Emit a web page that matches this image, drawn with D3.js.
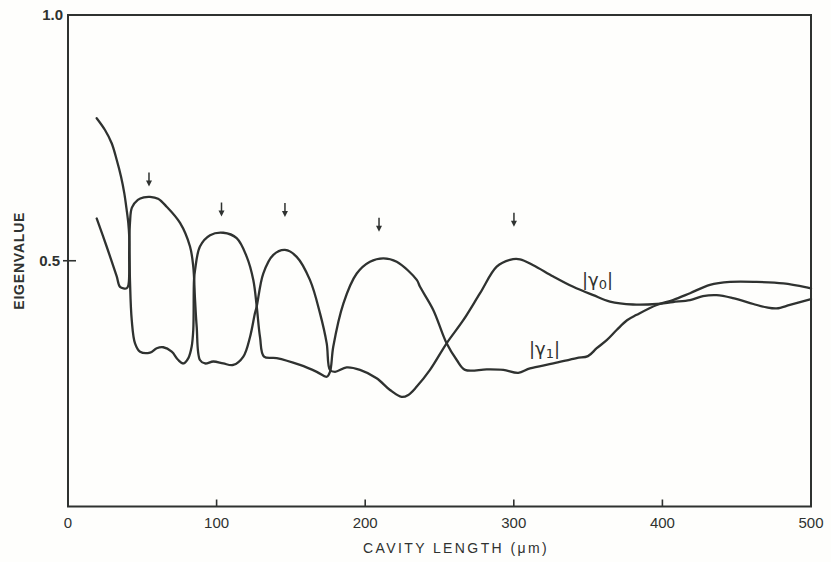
<!DOCTYPE html>
<html>
<head>
<meta charset="utf-8">
<script src="https://cdn.jsdelivr.net/npm/d3@7"></script>
<style>
  html, body { margin: 0; padding: 0; background: #fefefc; }
  svg { display: block; }
  text { fill: #2f3230; }
</style>
</head>
<body>
<svg id="chart" width="831" height="562"></svg>
<script>
// ---- data (cavity length in µm, eigenvalue magnitude) ----
const gamma1X = [19.3,24.9,29.4,32.8,35.7,37.9,39.5,40.6,41.2,41.7,42.9,45.1,48.5,55.2,59.7,64.1,69.8,74.2,77.6,81.0,83.2,84.3,84.8,85.5,88.8,95.6,104.5,113.5,120.3,124.7,127.0,129.2,131.9,140.4,156.1,167.4,174.1,176.3,178.5,185.3,194.3,203.2,212.2,221.2,234.7,236.9,245.8,254.8,261.6,267.2,281.8,293.0,303.0,310.9,326.6,342.3,349.9,355.8,362.7,369.2,376.2,382.7,396.2,407.1,418.6,432.0,445.5,463.4,481.4,497.1,500];
const gamma1Y = [0.790,0.766,0.739,0.705,0.671,0.637,0.603,0.576,0.550,0.461,0.379,0.332,0.315,0.313,0.322,0.324,0.315,0.298,0.291,0.302,0.325,0.359,0.461,0.481,0.529,0.552,0.557,0.546,0.508,0.461,0.407,0.345,0.305,0.302,0.288,0.274,0.264,0.274,0.325,0.413,0.474,0.498,0.505,0.498,0.461,0.447,0.400,0.332,0.298,0.278,0.279,0.278,0.272,0.281,0.291,0.302,0.306,0.322,0.339,0.359,0.379,0.390,0.410,0.420,0.434,0.451,0.457,0.457,0.454,0.446,0.444];

const gamma0X = [19.3,26.0,32.8,35.0,39.5,40.7,41.2,41.7,43.0,47.0,51.0,55.2,60.6,66.4,75.4,82.1,84.3,85.5,86.6,88.8,92.2,97.8,104.5,111.2,118.0,122.5,125.8,127.0,131.4,138.2,146.0,153.9,162.8,169.6,174.1,176.3,179.7,187.5,196.5,207.7,216.7,224.5,229.0,234.7,243.6,254.8,266.0,277.3,288.5,297.4,304.2,313.1,326.6,340.0,353.5,364.7,380.2,396.2,407.1,418.6,427.3,436.5,447.5,461.2,470.2,476.9,485.8,500];
const gamma0Y = [0.586,0.529,0.468,0.447,0.444,0.451,0.522,0.577,0.608,0.624,0.629,0.630,0.626,0.610,0.577,0.529,0.488,0.420,0.366,0.298,0.291,0.295,0.291,0.288,0.305,0.345,0.393,0.407,0.474,0.512,0.522,0.508,0.461,0.393,0.332,0.278,0.274,0.283,0.278,0.261,0.237,0.223,0.227,0.244,0.278,0.332,0.379,0.434,0.488,0.502,0.503,0.491,0.468,0.447,0.430,0.417,0.411,0.412,0.416,0.420,0.428,0.430,0.424,0.412,0.405,0.403,0.410,0.422];

// resonance arrows (x position, tip value)
const arrowX = [54.5, 103.3, 146.0, 209.3, 300.1];
const arrowY = [0.651, 0.590, 0.589, 0.559, 0.569];

const xTicks = [0, 100, 200, 300, 400, 500];
const yTicks = [0.5, 1.0];
const yTickLabels = ["0.5", "1.0"];

// ---- layout ----
const svg = d3.select("#chart");
const mLeft = 68, mRight = 811, mTop = 15, mBottom = 506.5;
const x = d3.scaleLinear().domain([0, 500]).range([mLeft, mRight]);
const y = d3.scaleLinear().domain([0, 1]).range([mBottom, mTop]);
const ink = "#2f3230";

// frame
svg.append("rect")
  .attr("x", x(0)).attr("y", y(1))
  .attr("width", x(500) - x(0)).attr("height", y(0) - y(1))
  .attr("fill", "none").attr("stroke", ink).attr("stroke-width", 2);

// x ticks (inward) and labels
const xAxis = svg.append("g");
xAxis.selectAll("line").data(xTicks.filter(t => t > 0 && t < 500)).enter().append("line")
  .attr("x1", d => x(d)).attr("x2", d => x(d))
  .attr("y1", y(0)).attr("y2", y(0) - 7)
  .attr("stroke", ink).attr("stroke-width", 1.6);
xAxis.selectAll("text").data(xTicks).enter().append("text")
  .attr("x", d => x(d)).attr("y", y(0) + 21)
  .attr("text-anchor", "middle")
  .attr("font-family", "Liberation Sans, Arial, sans-serif")
  .attr("font-size", 15)
  .text(d => d);

// y ticks
const yAxis = svg.append("g");
yAxis.selectAll("line").data(yTicks.filter(t => t < 1)).enter().append("line")
  .attr("x1", x(0) - 5).attr("x2", x(0) + 8)
  .attr("y1", d => y(d)).attr("y2", d => y(d))
  .attr("stroke", ink).attr("stroke-width", 1.6);
yAxis.selectAll("text").data(yTicks).enter().append("text")
  .attr("x", d => d < 1 ? x(0) - 8 : x(0) - 5)
  .attr("y", d => y(d) + 5)
  .attr("text-anchor", "end")
  .attr("font-family", "Liberation Sans, Arial, sans-serif")
  .attr("font-size", 15)
  .attr("font-weight", "bold")
  .text((d, i) => yTickLabels[i]);

// axis titles
svg.append("text")
  .attr("x", 456).attr("y", 553)
  .attr("text-anchor", "middle")
  .attr("font-family", "Liberation Sans, Arial, sans-serif")
  .attr("font-size", 14)
  .attr("letter-spacing", 2.4)
  .text("CAVITY LENGTH (μm)");

svg.append("text")
  .attr("transform", `translate(24, ${y(0.5)}) rotate(-90)`)
  .attr("text-anchor", "middle")
  .attr("font-family", "Liberation Sans, Arial, sans-serif")
  .attr("font-size", 14)
  .attr("font-weight", "bold")
  .attr("letter-spacing", 0.8)
  .text("EIGENVALUE");

// curves
const line = d3.line()
  .x(d => x(d[0])).y(d => y(d[1]))
  .curve(d3.curveCatmullRom.alpha(0.5));

const s0 = gamma0X.map((v, i) => [v, gamma0Y[i]]);
const s1 = gamma1X.map((v, i) => [v, gamma1Y[i]]);

svg.append("g").selectAll("path").data([s0, s1]).enter().append("path")
  .attr("d", line)
  .attr("fill", "none")
  .attr("stroke", ink)
  .attr("stroke-width", 2.3)
  .attr("stroke-linejoin", "round")
  .attr("stroke-linecap", "round");

// arrows
const arrows = svg.append("g");
arrowX.forEach((ax, i) => {
  const tipY = y(arrowY[i]);
  arrows.append("line")
    .attr("x1", x(ax)).attr("x2", x(ax))
    .attr("y1", tipY - 14).attr("y2", tipY - 4)
    .attr("stroke", ink).attr("stroke-width", 1.5);
  arrows.append("path")
    .attr("d", `M${x(ax) - 3},${tipY - 6} L${x(ax) + 3},${tipY - 6} L${x(ax)},${tipY} Z`)
    .attr("fill", ink);
});

// curve labels
function gammaLabel(px, py, sub) {
  const t = svg.append("text")
    .attr("x", px).attr("y", py)
    .attr("font-family", "DejaVu Sans, sans-serif")
    .attr("font-size", 18);
  t.append("tspan").text("|γ");
  t.append("tspan").attr("font-size", 13).attr("dy", 3).text(sub);
  t.append("tspan").attr("dy", -3).text("|");
}
gammaLabel(582, 286, "0");
gammaLabel(529, 355, "1");
</script>
</body>
</html>
